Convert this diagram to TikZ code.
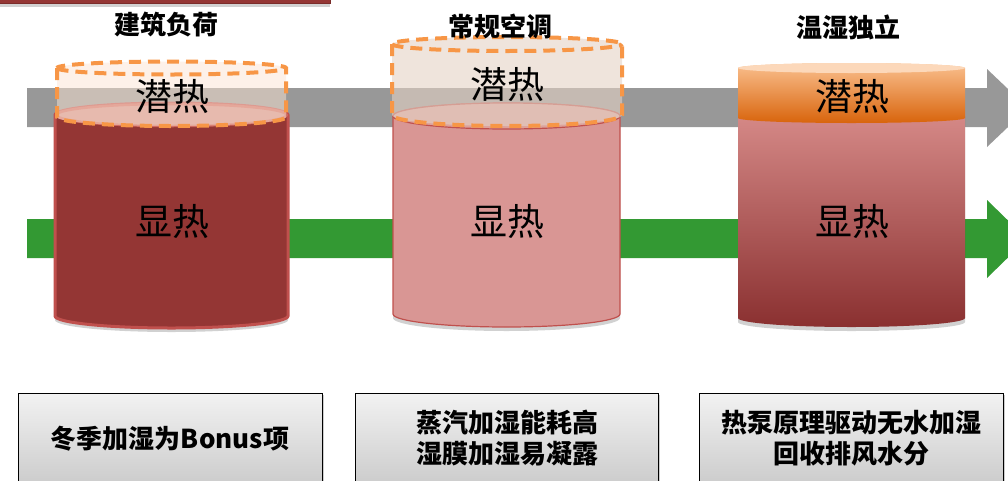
\documentclass[tikz,border=0pt]{standalone}
\usepackage{fontspec}
\newfontfamily\cjk{Noto Sans CJK SC}
\usetikzlibrary{shadows}
\definecolor{arrowgray}{HTML}{989898}
\definecolor{arrowgreen}{HTML}{339933}
\definecolor{darkred}{HTML}{943634}
\definecolor{darkredline}{HTML}{7A2C2A}
\definecolor{redline}{HTML}{C0504D}
\definecolor{cyltwo}{HTML}{D99694}
\definecolor{cyltwotop}{HTML}{DCA29C}
\definecolor{cylonetop}{HTML}{D39089}
\definecolor{cylonering}{HTML}{CF6B62}
\definecolor{dashorange}{HTML}{F79646}
\definecolor{peach}{HTML}{FBE4D3}
\definecolor{peachtwo}{HTML}{E4D2C4}
\definecolor{orangetop}{HTML}{FAC08F}
\definecolor{orangemid}{HTML}{F59A4E}
\definecolor{orangebot}{HTML}{D8640C}
\definecolor{orangeface}{HTML}{FCD8BA}
\definecolor{redtop}{HTML}{D68A88}
\definecolor{redmid}{HTML}{C0504D}
\definecolor{redbot}{HTML}{8A3030}
\definecolor{boxtop}{HTML}{F2F2F2}
\definecolor{boxbot}{HTML}{C4C4C4}
\begin{document}
\begin{tikzpicture}[x=1pt,y=-1pt,
  softshadow/.style={drop shadow={shadow xshift=0pt,shadow yshift=-4pt,opacity=0.18,fill=black}},
  dashline/.style={draw=dashorange,line width=4pt,dash pattern=on 12pt off 7pt},
  heattext/.style={font=\cjk\fontsize{37}{40}\selectfont,text=black,inner sep=0pt},
  titletext/.style={font=\cjk\bfseries\fontsize{26}{28}\selectfont,text=black,inner sep=0pt},
  notebox/.style={draw=black,line width=1pt,top color=boxtop,bottom color=boxbot,
    minimum width=304pt,minimum height=110pt,inner sep=0pt,
    drop shadow={shadow xshift=2pt,shadow yshift=-2pt,opacity=0.2,fill=black}},
  notetext/.style={font=\cjk\bfseries\fontsize{26}{31}\selectfont,align=center,text=black,inner sep=0pt}]
\useasboundingbox (0,0) rectangle (1008,480);
\clip (0,0) rectangle (1008,480);

% top-left bar
\path[fill=darkred,draw=darkredline,line width=1pt,softshadow] (-5,-10) rectangle (330,3);

% arrows
\fill[arrowgray] (27,88) -- (987,88) -- (987,69) -- (1028,108) -- (987,147) -- (987,127) -- (27,127) -- cycle;
\fill[arrowgreen] (27,219) -- (987,219) -- (987,200) -- (1027,239) -- (987,278) -- (987,258) -- (27,258) -- cycle;

% ---------- cylinder 1 ----------
\path[fill=darkred,draw=redline,line width=3pt,softshadow]
  (55,115) -- (55,316) arc[start angle=180,end angle=0,x radius=116.5,y radius=12]
  -- (288,115) arc[start angle=0,end angle=-180,x radius=116.5,y radius=12] -- cycle;
\path[fill=cylonetop,draw=cylonering,line width=2.5pt] (171.5,115) ellipse[x radius=115,y radius=11];
\path[fill=peach,fill opacity=0.5]
  (57,68) -- (57,117) arc[start angle=180,end angle=0,x radius=114.5,y radius=9]
  -- (286,68) arc[start angle=0,end angle=-180,x radius=114.5,y radius=6.5] -- cycle;
\path[dashline]
  (57,68) -- (57,117) arc[start angle=180,end angle=0,x radius=114.5,y radius=9]
  -- (286,68) arc[start angle=0,end angle=-180,x radius=114.5,y radius=6.5] -- cycle;
\path[dashline] (57,68) arc[start angle=180,end angle=0,x radius=114.5,y radius=6.5];
\node[heattext] (lat1) at (172,96) {潜热};
\node[heattext] (sen1) at (172,221) {显热};
\node[titletext] (t1) at (166,25) {建筑负荷};

% ---------- cylinder 2 ----------
\path[fill=cyltwo,draw=redline,line width=1.2pt,softshadow]
  (393,116) -- (393,314) arc[start angle=180,end angle=0,x radius=113.5,y radius=13]
  -- (620,116) arc[start angle=0,end angle=-180,x radius=113.5,y radius=13] -- cycle;
\path[fill=cyltwotop,draw=redline,line width=1.2pt] (506.5,116) ellipse[x radius=113.5,y radius=13];
\path[fill=peachtwo,fill opacity=0.6]
  (392,44) -- (392,115) arc[start angle=180,end angle=0,x radius=115,y radius=11]
  -- (622,44) arc[start angle=0,end angle=-180,x radius=115,y radius=7] -- cycle;
\path[dashline]
  (392,44) -- (392,115) arc[start angle=180,end angle=0,x radius=115,y radius=11]
  -- (622,44) arc[start angle=0,end angle=-180,x radius=115,y radius=7] -- cycle;
\path[dashline] (392,44) arc[start angle=180,end angle=0,x radius=115,y radius=7];
\node[heattext] (lat2) at (507,84) {潜热};
\node[heattext] (sen2) at (507,221) {显热};
\node[titletext] (t2) at (500,26) {常规空调};

% ---------- cylinder 3 ----------
\path[top color=redtop,middle color=redmid,bottom color=redbot,softshadow]
  (738,112) -- (738,318) arc[start angle=180,end angle=0,x radius=113.5,y radius=9]
  -- (965,112) -- cycle;
\path[top color=orangetop,middle color=orangemid,bottom color=orangebot]
  (738,68) -- (738,118) arc[start angle=180,end angle=0,x radius=113.5,y radius=5]
  -- (965,68) arc[start angle=0,end angle=-180,x radius=113.5,y radius=5] -- cycle;
\path[fill=orangeface] (851.5,68) ellipse[x radius=113.5,y radius=5];
\node[heattext] (lat3) at (852,96) {潜热};
\node[heattext] (sen3) at (852,221) {显热};
\node[titletext] (t3) at (848,27) {温湿独立};

% ---------- bottom boxes ----------
\node[notebox,minimum width=304pt] (b1) at (170,448) {};
\node[notebox,minimum width=303pt] (b2) at (506.5,448) {};
\node[notebox,minimum width=304pt] (b3) at (851,448) {};
\node[notetext] (n1) at (170,439) {冬季加湿为Bonus项};
\node[notetext] (n2) at (507,438.5) {蒸汽加湿能耗高\\湿膜加湿易凝露};
\node[notetext] (n3) at (851,438.5) {热泵原理驱动无水加湿\\回收排风水分};
\end{tikzpicture}
\end{document}
